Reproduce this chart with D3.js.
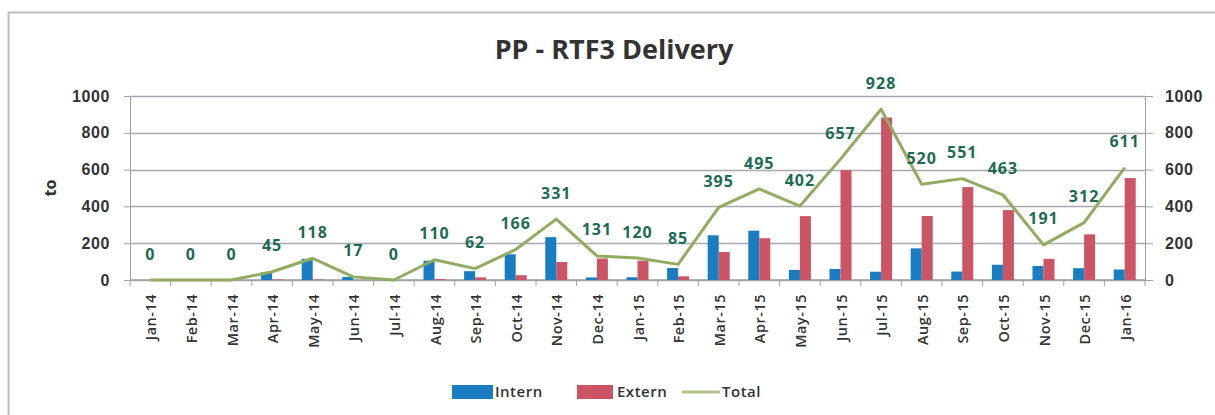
<!DOCTYPE html>
<html>
<head>
<meta charset="utf-8">
<script src="https://cdn.jsdelivr.net/npm/d3@7"></script>
<style>
    body { margin: 0; background: #fff; }
    svg { display: block; font-family: "Open Sans", "DejaVu Sans", sans-serif; }
    .axisText { fill: #333; font-size: 16px; font-weight: 600; letter-spacing: 0.6px; }
    .monthText { fill: #333; font-size: 14.5px; font-weight: 600; letter-spacing: 0.5px; }
    .valueLabel { fill: #1d6b52; font-size: 16px; font-weight: 700; letter-spacing: 1px; }
</style>
</head>
<body>
<div id="chart"></div>
<script>
// data
var months = ["Jan-14", "Feb-14", "Mar-14", "Apr-14", "May-14", "Jun-14", "Jul-14", "Aug-14",
    "Sep-14", "Oct-14", "Nov-14", "Dec-14", "Jan-15", "Feb-15", "Mar-15", "Apr-15", "May-15",
    "Jun-15", "Jul-15", "Aug-15", "Sep-15", "Oct-15", "Nov-15", "Dec-15", "Jan-16"];
var intern = [0, 0, 0, 42, 115, 17, 0, 105, 48, 140, 233, 14, 15, 65, 243, 268, 55,
    60, 45, 172, 46, 83, 76, 64, 57];
var extern = [0, 0, 0, 3, 3, 0, 0, 5, 14, 26, 98, 117, 105, 20, 152, 227, 347,
    597, 883, 348, 505, 380, 115, 248, 554];
var total = [0, 0, 0, 45, 118, 17, 0, 110, 62, 166, 331, 131, 120, 85, 395, 495, 402,
    657, 928, 520, 551, 463, 191, 312, 611];
var yTicks = [0, 200, 400, 600, 800, 1000];
var seriesNames = ["Intern", "Extern", "Total"];

var width = 1215,
    height = 415,
    margin = {top: 96, right: 70, bottom: 135, left: 130},
    plotW = 1145 - margin.left,
    plotH = 280 - margin.top,
    colors = {Intern: "#1a7dc1", Extern: "#cc5565", Total: "#91ac60"},
    barW = 11;

var svg = d3.select("#chart").append("svg")
    .attr("width", width)
    .attr("height", height);

// outer chart frame
svg.append("rect")
    .attr("x", 8.5)
    .attr("y", 12.5)
    .attr("width", width + 20)
    .attr("height", height)
    .attr("fill", "white")
    .attr("stroke", "#bdbdbd")
    .attr("stroke-width", 2);

svg.append("text")
    .attr("x", 614)
    .attr("y", 59)
    .attr("text-anchor", "middle")
    .attr("fill", "#333")
    .attr("font-size", "27px")
    .attr("font-weight", 700)
    .text("PP - RTF3 Delivery");

var x = d3.scaleBand()
    .domain(months)
    .range([margin.left, margin.left + plotW]);

var y = d3.scaleLinear()
    .domain([0, 1000])
    .range([margin.top + plotH, margin.top]);

var g = svg.append("g");

// gridlines
g.selectAll("line.grid")
    .data(yTicks)
    .enter()
    .append("line")
    .classed("grid", true)
    .attr("x1", margin.left)
    .attr("x2", margin.left + plotW)
    .attr("y1", function (d) { return Math.round(y(d)) + 0.5; })
    .attr("y2", function (d) { return Math.round(y(d)) + 0.5; })
    .attr("stroke", "#a8a8b0")
    .attr("stroke-width", 1.5);

// plot area right border
g.append("line")
    .attr("x1", margin.left + plotW + 0.5)
    .attr("x2", margin.left + plotW + 0.5)
    .attr("y1", margin.top)
    .attr("y2", margin.top + plotH)
    .attr("stroke", "#b8b8b8");

// left axis
var leftAxis = g.append("g")
    .attr("transform", "translate(" + margin.left + ",0)")
    .call(d3.axisLeft(y).tickValues(yTicks).tickSize(6).tickPadding(14).tickFormat(d3.format("d")));
leftAxis.select(".domain").attr("stroke", "#a0a0a0");
leftAxis.selectAll(".tick line").attr("stroke", "#a0a0a0");
leftAxis.selectAll("text").attr("class", "axisText").attr("font-family", null).attr("font-size", null);

// right axis
var rightAxis = g.append("g")
    .attr("transform", "translate(" + (margin.left + plotW) + ",0)")
    .call(d3.axisRight(y).tickValues(yTicks).tickSize(8).tickPadding(12).tickFormat(d3.format("d")));
rightAxis.select(".domain").attr("stroke", "#a0a0a0");
rightAxis.selectAll(".tick line").attr("stroke", "#a0a0a0");
rightAxis.selectAll("text").attr("class", "axisText").attr("font-family", null).attr("font-size", null);

// bottom axis: ticks at category boundaries
var bottom = g.append("g")
    .attr("transform", "translate(0," + (margin.top + plotH) + ")");
bottom.append("line")
    .attr("x1", margin.left)
    .attr("x2", margin.left + plotW)
    .attr("stroke", "#a0a0a0")
    .attr("stroke-width", 1.5);
bottom.selectAll("line.tick")
    .data(months.concat(["end"]))
    .enter()
    .append("line")
    .classed("tick", true)
    .attr("x1", function (d, i) { return margin.left + i * x.bandwidth(); })
    .attr("x2", function (d, i) { return margin.left + i * x.bandwidth(); })
    .attr("y1", 0)
    .attr("y2", 6)
    .attr("stroke", "#a0a0a0");
bottom.selectAll("text")
    .data(months)
    .enter()
    .append("text")
    .attr("class", "monthText")
    .attr("transform", function (d) {
        return "translate(" + (x(d) + x.bandwidth() / 2 + 6) + ",14) rotate(-90)";
    })
    .attr("text-anchor", "end")
    .text(function (d) { return d; });

// y axis title
svg.append("text")
    .attr("transform", "translate(56,188) rotate(-90)")
    .attr("text-anchor", "middle")
    .attr("fill", "#333")
    .attr("font-size", "16px")
    .attr("font-weight", 700)
    .text("to");

// bars
var bars = g.append("g");
bars.selectAll("rect.intern")
    .data(intern)
    .enter()
    .append("rect")
    .classed("intern", true)
    .attr("x", function (d, i) { return x(months[i]) + x.bandwidth() / 2 - barW; })
    .attr("y", function (d) { return y(d); })
    .attr("width", barW)
    .attr("height", function (d) { return y(0) - y(d); })
    .attr("fill", colors.Intern);
bars.selectAll("rect.extern")
    .data(extern)
    .enter()
    .append("rect")
    .classed("extern", true)
    .attr("x", function (d, i) { return x(months[i]) + x.bandwidth() / 2; })
    .attr("y", function (d) { return y(d); })
    .attr("width", barW)
    .attr("height", function (d) { return y(0) - y(d); })
    .attr("fill", colors.Extern);

// total line
var line = d3.line()
    .x(function (d, i) { return x(months[i]) + x.bandwidth() / 2; })
    .y(function (d) { return y(d); });
g.append("path")
    .datum(total)
    .attr("d", line)
    .attr("fill", "none")
    .attr("stroke", colors.Total)
    .attr("stroke-width", 3)
    .attr("stroke-linejoin", "round");

// value labels
g.selectAll("text.valueLabel")
    .data(total)
    .enter()
    .append("text")
    .attr("class", "valueLabel")
    .attr("x", function (d, i) { return x(months[i]) + x.bandwidth() / 2; })
    .attr("y", function (d) { return y(d) - 26; })
    .attr("dy", "0.35em")
    .attr("text-anchor", "middle")
    .text(function (d) { return d; });

// legend
var legendPos = [452, 577, 682];
var legend = svg.append("g");
seriesNames.forEach(function (name, i) {
    var item = legend.append("g")
        .attr("transform", "translate(" + legendPos[i] + ",392)");
    if (name === "Total") {
        item.append("line")
            .attr("x1", 0)
            .attr("x2", 38)
            .attr("stroke", "#b5c48a")
            .attr("stroke-width", 3);
    } else {
        item.append("rect")
            .attr("x", 0)
            .attr("y", -7)
            .attr("width", name === "Intern" ? 41 : 36)
            .attr("height", 14)
            .attr("fill", colors[name]);
    }
    item.append("text")
        .attr("x", name === "Intern" ? 43 : 40)
        .attr("dy", "0.35em")
        .attr("fill", "#333")
        .attr("font-size", "15px")
        .attr("font-weight", 600)
        .attr("letter-spacing", "0.5px")
        .text(name);
});
</script>
</body>
</html>
